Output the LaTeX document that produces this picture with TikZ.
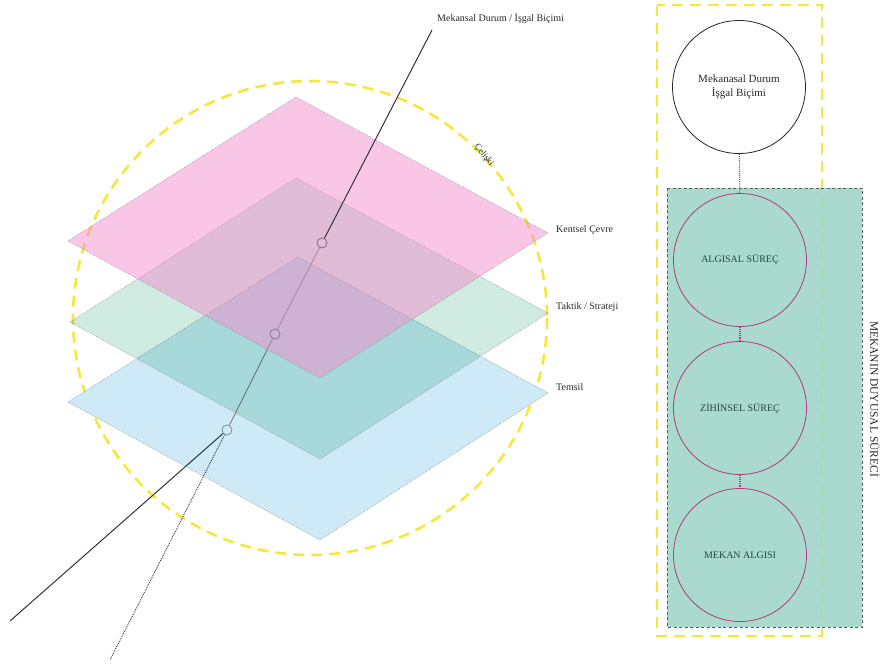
\documentclass[tikz,border=0pt]{standalone}
\usepackage{fontspec}
\setmainfont{Liberation Serif}
\definecolor{yel}{RGB}{245,232,60}
\definecolor{pinkL}{RGB}{243,141,205}
\definecolor{greenL}{RGB}{208,236,226}
\definecolor{blueL}{RGB}{205,234,246}
\definecolor{tealbox}{RGB}{158,213,199}
\definecolor{mag}{RGB}{176,58,122}
\definecolor{magdot}{RGB}{208,48,122}
\definecolor{txt}{RGB}{40,40,40}
\definecolor{ctxt}{RGB}{35,70,62}
\begin{document}
\begin{tikzpicture}[x=1pt,y=-1pt,
  layeredge/.style={draw=gray!80, densely dotted, line width=0.6pt},
  yelldash/.style={draw=yel, line width=2.6pt, dash pattern=on 11pt off 7pt},
  axisline/.style={draw=black!80, line width=1pt},
  hidline/.style={draw=black!55, line width=0.8pt},
  ring/.style={circle, draw=black!55, line width=0.6pt, minimum size=10pt, inner sep=0pt},
  lbl/.style={font=\fontsize{10}{11}\selectfont, text=txt, inner sep=0pt},
  bigc/.style={circle, minimum size=133pt, inner sep=0pt, align=center, line width=0.8pt},
  ctext/.style={font=\fontsize{10}{12}\selectfont, text=ctxt},
  mconn/.style={draw=magdot, densely dotted, line width=1.1pt}]
\useasboundingbox (0,0) rectangle (880,664);

% ---------- left: Çelişki circle ----------
\draw[yelldash] (310,318) circle (237);

% coordinates of layers
\coordinate (pT) at (296,97);  \coordinate (pR) at (548,233);
\coordinate (pB) at (320,378); \coordinate (pL) at (68,241);
\coordinate (gT) at (296,178); \coordinate (gR) at (548,313);
\coordinate (gB) at (320,459); \coordinate (gL) at (70,322);
\coordinate (bT) at (298,257); \coordinate (bR) at (548,393);
\coordinate (bB) at (320,540); \coordinate (bL) at (68,402);

\node[ring] (c1) at (322,243) {};
\node[ring] (c2) at (275,334) {};
\node[ring] (c3) at (227,430) {};
\coordinate (top) at (432,30);
\coordinate (endA) at (10,621);
\coordinate (endB) at (110,660);

% blue layer
\fill[blueL] (bT) -- (bR) -- (bB) -- (bL) -- cycle;
\draw[layeredge] (bT) -- (bR) -- (bB) -- (bL) -- cycle;
% segment under green
\draw[hidline] (c2) -- (c3);
% green layer (multiply)
\begin{scope}[blend mode=multiply]
\fill[greenL] (gT) -- (gR) -- (gB) -- (gL) -- cycle;
\end{scope}
\draw[layeredge] (gT) -- (gR) -- (gB) -- (gL) -- cycle;
% segment under pink
\draw[hidline] (c1) -- (c2);
% pink layer
\fill[pinkL, fill opacity=0.5] (pT) -- (pR) -- (pB) -- (pL) -- cycle;
\draw[layeredge] (pT) -- (pR) -- (pB) -- (pL) -- cycle;

% redraw rings on top
\node[ring] at (c1) {};
\node[ring] at (c2) {};
\node[ring] at (c3) {};

\draw[axisline] (top) -- (c1);
\draw[axisline] (c3) -- (endA);
\draw[black!80, line width=0.9pt, densely dotted] (c3) -- (endB);

% labels
\node[lbl, anchor=west] (mk) at (437,18) {Mekansal Durum / İşgal Biçimi};
\node[lbl, anchor=west] (kc) at (556,230) {Kentsel Çevre};
\node[lbl, anchor=west] (ts) at (556,307) {Taktik / Strateji};
\node[lbl, anchor=west] (tm) at (556,387) {Temsil};
\node[lbl, rotate=-52, font=\fontsize{9}{10}\selectfont] (cel) at (484,155) {Çelişki};

% ---------- right side ----------
\draw[yelldash] (657,5) rectangle (822,636);
\fill[tealbox, fill opacity=0.88] (667,188) rectangle (862,627);
\draw[black!65, line width=1pt, dash pattern=on 3pt off 2.5pt] (667,188) rectangle (862,627);

\node[bigc, draw=black!85, text=txt, font=\fontsize{11}{13.5}\selectfont] (s0) at (739,87) {Mekanasal Durum\\İşgal Biçimi};
\node[bigc, draw=mag, ctext] (s1) at (740,260) {ALGISAL SÜREÇ};
\node[bigc, draw=mag, ctext] (s2) at (740,408) {ZİHİNSEL SÜREÇ};
\node[bigc, draw=mag, ctext] (s3) at (740,555) {MEKAN ALGISI};

\draw[mconn] (s0) -- (s1);
\draw[mconn] (s1) -- (s2);
\draw[mconn] (s2) -- (s3);

\node[rotate=-90, font=\fontsize{11.5}{12}\selectfont, text=txt] (side) at (875,399) {MEKANIN DUYUSAL SÜRECİ};
\end{tikzpicture}
\end{document}
